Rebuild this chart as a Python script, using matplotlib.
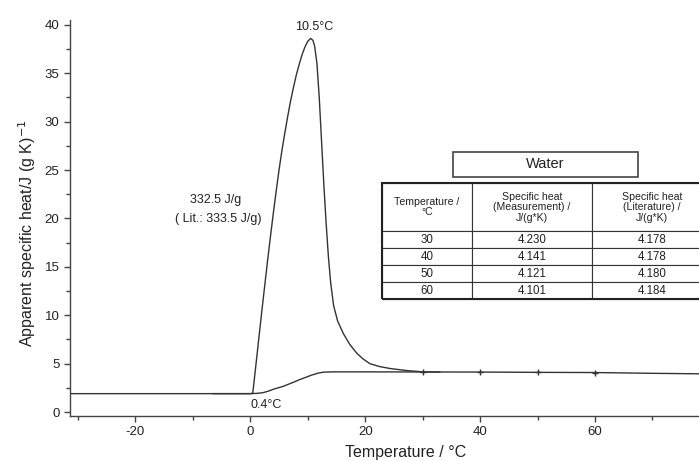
import matplotlib
matplotlib.use("Agg")
import matplotlib.pyplot as plt
from matplotlib.ticker import MultipleLocator
from matplotlib.patches import Rectangle

plt.rcParams['font.family'] = ['Liberation Sans', 'DejaVu Sans']
plt.rcParams['axes.unicode_minus'] = False

# Apparent specific heat curve (melting peak)
temp_peak = [-31.4, -5, 0, 0.4, 0.5, 1.0, 1.5, 2.0, 2.5, 3.0, 3.5, 4.0, 4.5, 5.0, 5.5, 6.0, 6.5,
             7.0, 7.5, 8.0, 8.5, 9.0, 9.5, 10.0, 10.5, 10.9, 11.2, 11.6, 12.0, 12.4, 12.8, 13.2,
             13.6, 14.0, 14.5, 15.2, 16.2, 17.3, 18.5, 19.6, 20.8, 22.5, 24.3, 27, 30, 33]
cp_peak = [1.9, 1.9, 1.9, 1.95, 2.3, 5.0, 7.7, 10.4, 13.0, 15.6, 18.1, 20.5, 22.8, 25.0, 27.0, 28.8, 30.5,
           32.1, 33.5, 34.8, 35.9, 36.9, 37.7, 38.3, 38.6, 38.4, 37.8, 36.0, 32.5, 28.0, 23.5, 19.5,
           16.0, 13.3, 11.0, 9.4, 8.1, 7.0, 6.1, 5.5, 5.0, 4.7, 4.5, 4.3, 4.15, 4.13]

# Sensible-heat baseline curve
temp_base = [-6.5, 0, 1.2, 2.2, 3.1, 4.0, 5.7, 7.4, 8.6, 10.6, 11.8, 12.7, 14.4, 20, 30, 40, 50, 60, 70, 78.1]
cp_base = [1.9, 1.9, 1.93, 2.0, 2.15, 2.35, 2.65, 3.05, 3.35, 3.8, 4.02, 4.12, 4.15, 4.15, 4.14, 4.13, 4.1, 4.08, 4.0, 3.95]
marker_temps = [30, 40, 50, 60]

# Table
col_labels = ["Temperature /\n°C", "Specific heat\n(Measurement) /\nJ/(g*K)", "Specific heat\n(Literature) /\nJ/(g*K)"]
tbl_temp = ["30", "40", "50", "60"]
tbl_meas = ["4.230", "4.141", "4.121", "4.101"]
tbl_lit = ["4.178", "4.178", "4.180", "4.184"]

fig = plt.figure(figsize=(6.99, 4.61), dpi=100)
ax = fig.add_axes([0.100, 0.0976, 0.900, 0.859])

lc = '#333333'
ax.plot(temp_peak, cp_peak, color=lc, lw=1.0)
mk_idx = [temp_base.index(t) for t in marker_temps]
ax.plot(temp_base, cp_base, color=lc, lw=1.0, marker='+', ms=5, mew=1.0, markevery=mk_idx)

ax.set_xlim(-31.4, 78.1)
ax.set_ylim(-0.41, 40.5)
ax.xaxis.set_major_locator(MultipleLocator(20))
ax.xaxis.set_minor_locator(MultipleLocator(10))
ax.yaxis.set_major_locator(MultipleLocator(5))
ax.yaxis.set_minor_locator(MultipleLocator(2.5))
for s in ['top', 'right']:
    ax.spines[s].set_visible(False)
for s in ['left', 'bottom']:
    ax.spines[s].set_color('#444444')
    ax.spines[s].set_linewidth(1.0)
ax.tick_params(which='major', length=4, width=1.0, color='#444444', labelsize=9.5, labelcolor='#222222')
ax.tick_params(which='minor', length=3, width=1.0, color='#444444')

ax.set_xlabel("Temperature / °C", fontsize=11.5, color='#222222')
ax.xaxis.set_label_coords(0.534, -0.074)
ax.set_ylabel("Apparent specific heat/J (g K)$^{-1}$", fontsize=11.5, color='#222222')
ax.yaxis.set_label_coords(-0.050, 0.462)

ax.text(11.2, 39.8, "10.5°C", ha='center', va='center', fontsize=9, color='#222222')
ax.text(2.7, 0.7, "0.4°C", ha='center', va='center', fontsize=9, color='#222222')
ax.text(-6.0, 21.9, "332.5 J/g", ha='center', va='center', fontsize=9, color='#222222')
ax.text(-5.5, 19.9, "( Lit.: 333.5 J/g)", ha='center', va='center', fontsize=9, color='#222222')

# Water title box
ax.add_patch(Rectangle((0.609, 0.604), 0.294, 0.063, transform=ax.transAxes,
                       fill=False, edgecolor='#444444', lw=1.2, clip_on=False))
ax.text(0.609 + 0.147, 0.604 + 0.0315, "Water", transform=ax.transAxes,
        ha='center', va='center', fontsize=10.5, color='#222222')

rows = [[a, b, c] for a, b, c in zip(tbl_temp, tbl_meas, tbl_lit)]
tbl = ax.table(cellText=rows, colLabels=col_labels, cellLoc='center',
               bbox=[0.496, 0.295, 0.525, 0.293])
tbl.auto_set_font_size(False)
widths = [90, 120, 120]
for (r, c), cell in tbl.get_celld().items():
    cell.set_width(widths[c])
    cell.set_height(48 if r == 0 else 17)
    cell.set_linewidth(0.8)
    cell.set_edgecolor('#333333')
    txt = cell.get_text()
    txt.set_fontsize(7.6 if r == 0 else 8.3)
    txt.set_color('#222222')
    if r == 0:
        txt.set_linespacing(1.05)
    cell.set_clip_on(False)
tbl.set_clip_on(False)
ax.add_patch(Rectangle((0.496, 0.295), 0.525, 0.293, transform=ax.transAxes,
                       fill=False, edgecolor='#222222', lw=1.5, clip_on=False))

fig.savefig("out.png", dpi=100)
